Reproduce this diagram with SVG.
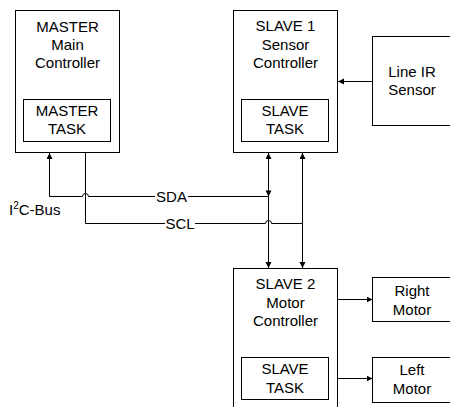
<svg xmlns="http://www.w3.org/2000/svg" width="450" height="407" viewBox="0 0 450 407">
  <style>
    .box { fill: #fff; stroke: #000; stroke-width: 1; }
    .lbl { font-family: "Liberation Sans", Arial, sans-serif; font-size: 15px; fill: #000; text-anchor: middle; }
    .wire { fill: none; stroke: #000; stroke-width: 1; }
    .arrow { marker-end: url(#head); }
  </style>
  <defs>
    <marker id="head" markerUnits="userSpaceOnUse" markerWidth="7" markerHeight="7" refX="6" refY="3" orient="auto">
      <path d="M0,0 L6,3 L0,6 z" fill="#000"/>
    </marker>
  </defs>

  <rect width="450" height="407" fill="#fff"/>

  <!-- Bus master -->
  <g id="master">
    <rect class="box" x="15.5" y="10.5" width="104" height="142"/>
    <text class="lbl" x="67.5" y="32">MASTER</text>
    <text class="lbl" x="67.5" y="50">Main</text>
    <text class="lbl" x="67.5" y="68">Controller</text>
    <rect class="box" x="23.5" y="99.5" width="87" height="42"/>
    <text class="lbl" x="67" y="116">MASTER</text>
    <text class="lbl" x="67" y="134">TASK</text>
  </g>

  <!-- Sensor slave -->
  <g id="slave1">
    <rect class="box" x="233.5" y="10.5" width="104" height="142"/>
    <text class="lbl" x="285.5" y="31">SLAVE 1</text>
    <text class="lbl" x="285.5" y="49.5">Sensor</text>
    <text class="lbl" x="285.5" y="68">Controller</text>
    <rect class="box" x="241.5" y="99.5" width="87" height="42"/>
    <text class="lbl" x="285" y="116">SLAVE</text>
    <text class="lbl" x="285" y="134">TASK</text>
  </g>

  <g id="line-ir-sensor">
    <rect class="box" x="372.5" y="36.5" width="100" height="89"/>
    <text class="lbl" x="412" y="77">Line IR</text>
    <text class="lbl" x="412" y="95">Sensor</text>
  </g>

  <!-- Motor slave -->
  <g id="slave2">
    <rect class="box" x="233.5" y="268.5" width="104" height="150"/>
    <text class="lbl" x="285.5" y="289">SLAVE 2</text>
    <text class="lbl" x="285.5" y="307.5">Motor</text>
    <text class="lbl" x="285.5" y="326">Controller</text>
    <rect class="box" x="241.5" y="357.5" width="87" height="42"/>
    <text class="lbl" x="285" y="374">SLAVE</text>
    <text class="lbl" x="285" y="392.5">TASK</text>
  </g>

  <g id="right-motor">
    <rect class="box" x="372.5" y="277.5" width="100" height="44"/>
    <text class="lbl" x="412" y="296">Right</text>
    <text class="lbl" x="412" y="314.5">Motor</text>
  </g>

  <g id="left-motor">
    <rect class="box" x="372.5" y="357.5" width="100" height="45"/>
    <text class="lbl" x="412" y="375">Left</text>
    <text class="lbl" x="412" y="394">Motor</text>
  </g>

  <!-- Connectors -->
  <g id="connectors">
    <!-- sensor and motor links -->
    <line class="wire arrow" x1="372.5" y1="81.5" x2="338" y2="81.5"/>
    <line class="wire arrow" x1="337.5" y1="299.5" x2="372.5" y2="299.5"/>
    <line class="wire arrow" x1="337.5" y1="378.5" x2="372.5" y2="378.5"/>

    <!-- SDA -->
    <line class="wire arrow" x1="49.5" y1="196.5" x2="49.5" y2="153"/>
    <path class="wire" d="M49.5,196.5 H82.5 A3,3 0 0 1 88.5,196.5 H268.5"/>
    <line class="wire arrow" x1="268.5" y1="196.5" x2="268.5" y2="153"/>
    <line class="wire arrow" x1="268.5" y1="196.5" x2="268.5" y2="268"/>
    <path d="M265.5,190.5 L271.5,190.5 L268.5,196.5 z" fill="#000"/>

    <!-- SCL -->
    <path class="wire" d="M85.5,152.5 V223.5 H265.5 A3,3 0 0 1 271.5,223.5 H302.5"/>
    <line class="wire arrow" x1="302.5" y1="223.5" x2="302.5" y2="153"/>
    <line class="wire arrow" x1="302.5" y1="223.5" x2="302.5" y2="268"/>

    <!-- bus labels -->
    <rect x="155" y="189" width="33" height="15" fill="#fff"/>
    <text class="lbl" x="171.5" y="202">SDA</text>
    <rect x="165" y="216" width="30" height="15" fill="#fff"/>
    <text class="lbl" x="180" y="228.5">SCL</text>
  </g>

  <text x="9" y="215" font-family="Liberation Sans, Arial, sans-serif" font-size="15" fill="#000">I<tspan font-size="10" dy="-6">2</tspan><tspan dy="6">C-Bus</tspan></text>
</svg>
